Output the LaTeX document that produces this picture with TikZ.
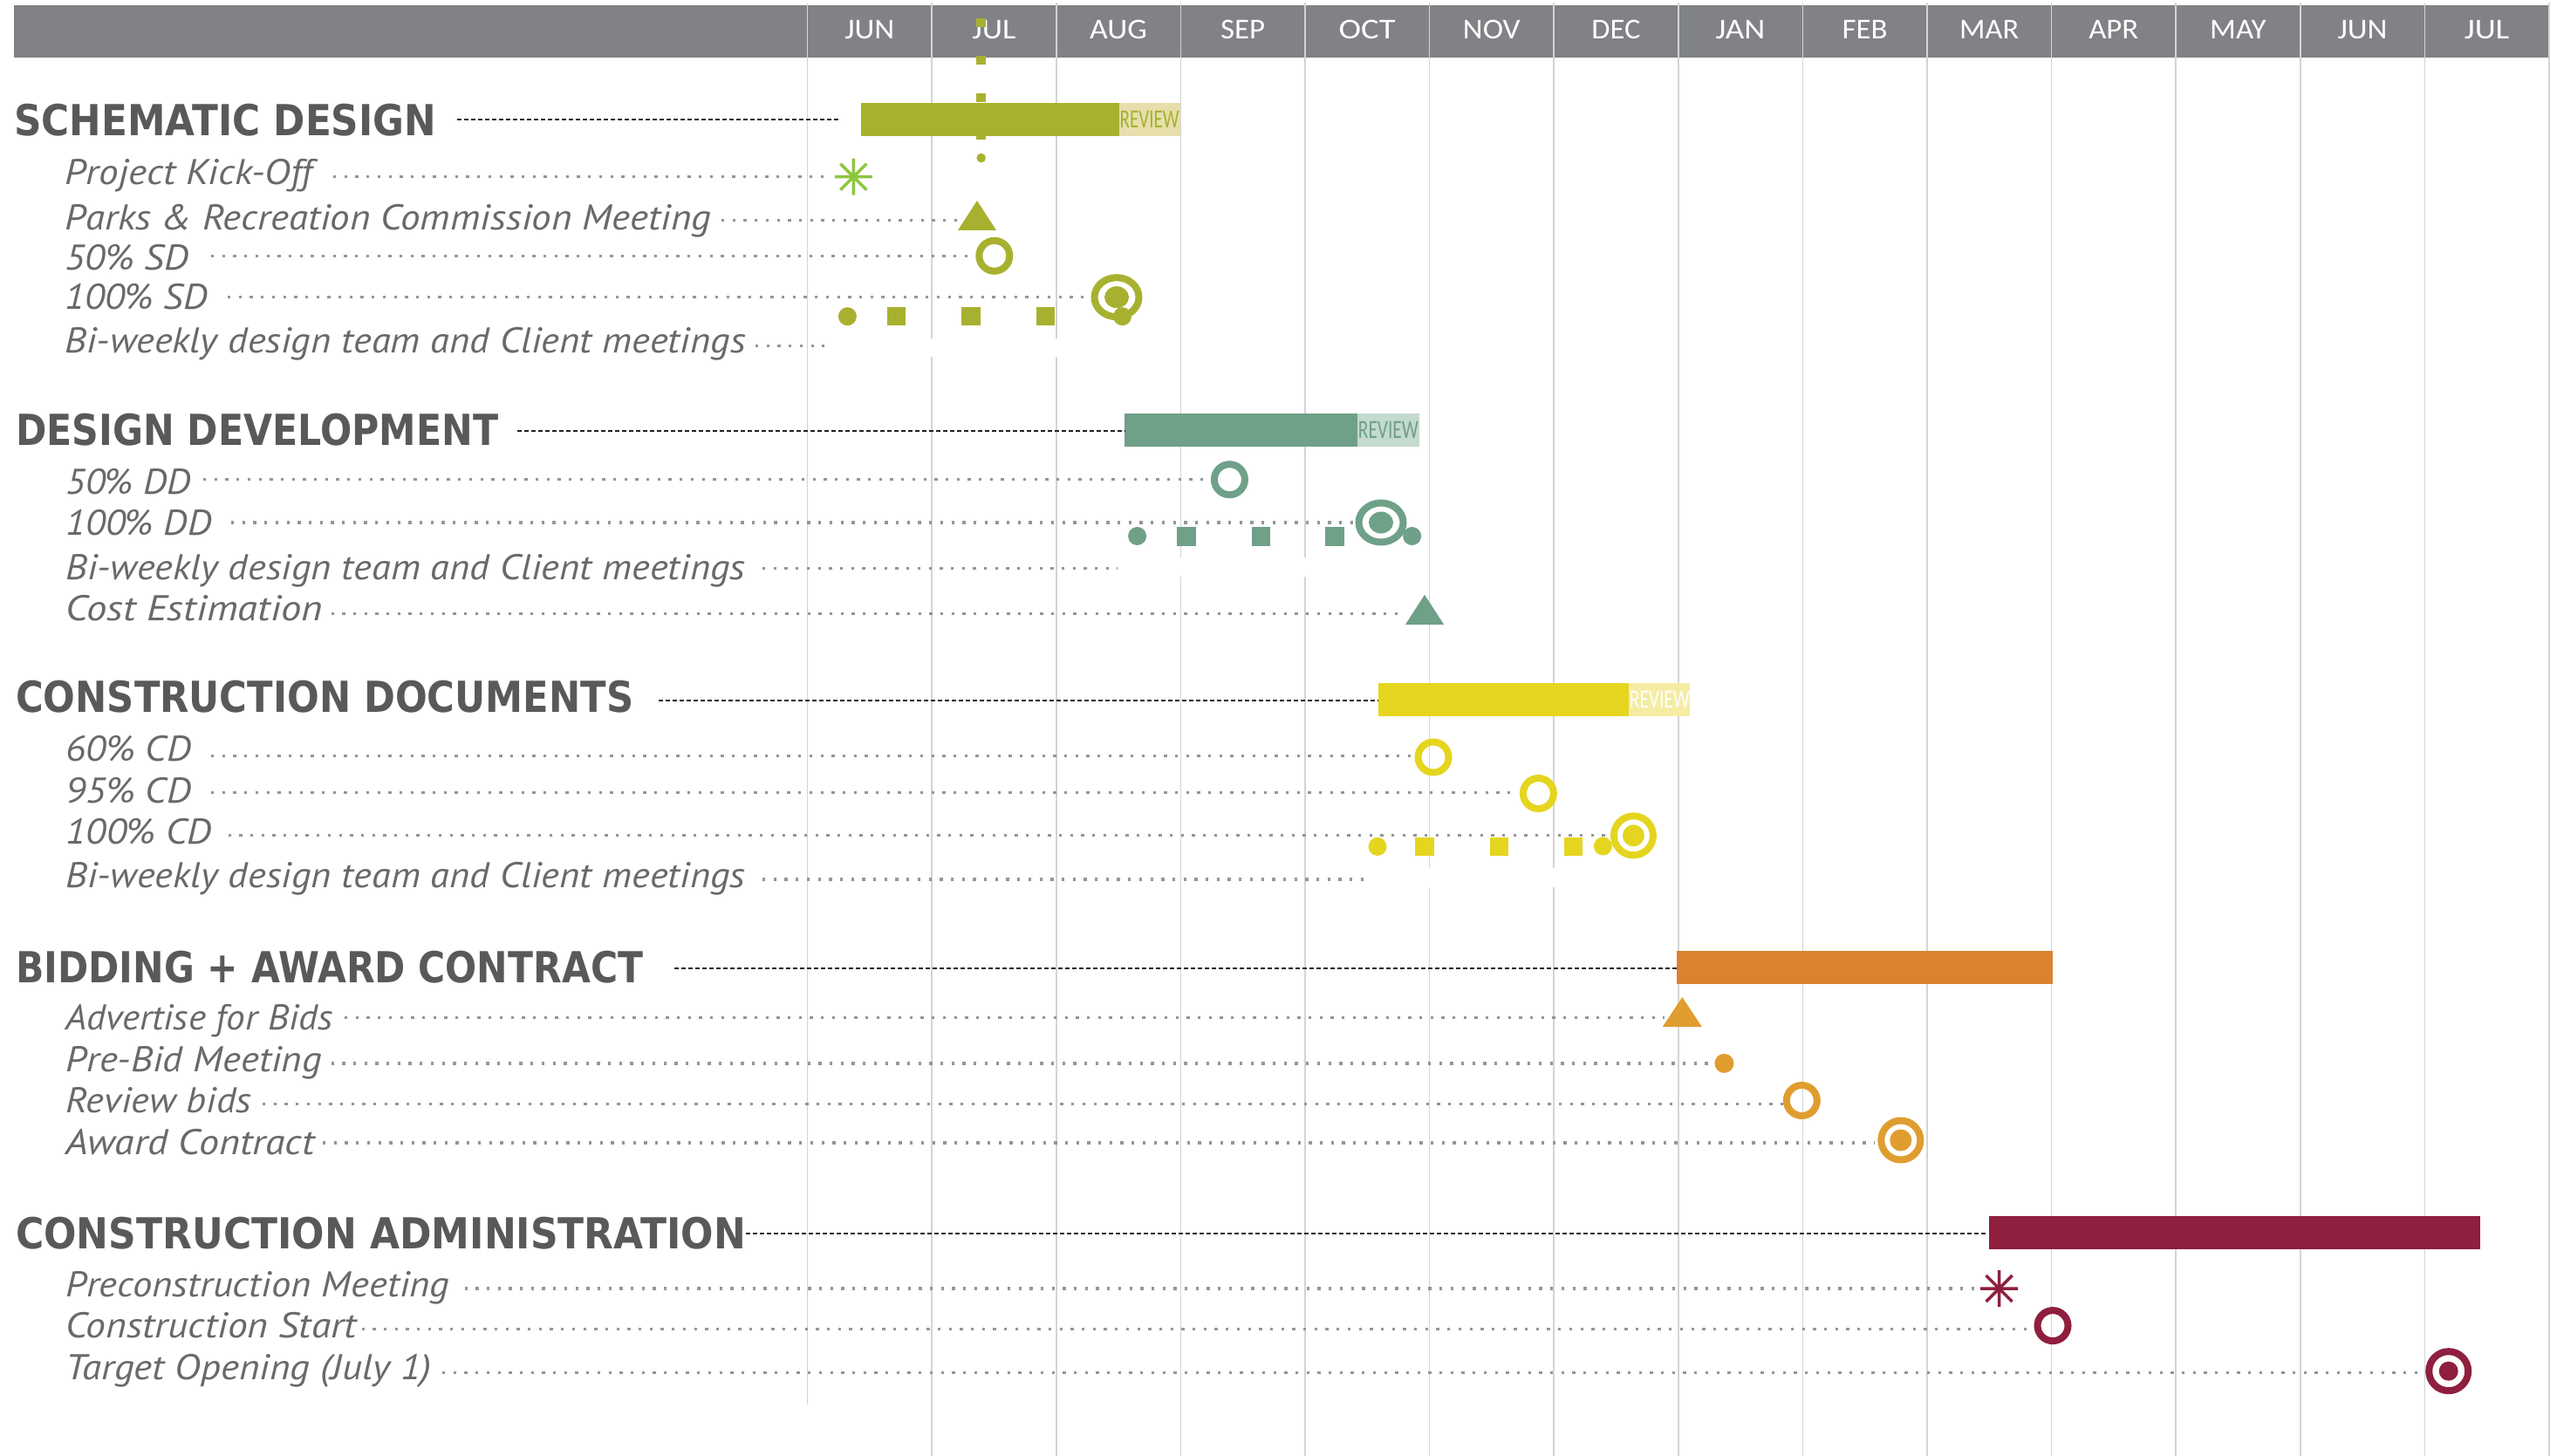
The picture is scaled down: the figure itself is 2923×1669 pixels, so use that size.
\documentclass[tikz,border=0pt]{standalone}
\usepackage{fontspec}
\usepackage{graphicx}
\usetikzlibrary{shapes.geometric}
\newfontfamily\headfont{DejaVu Sans}
\newfontfamily\itemfont{PT Sans}
\newfontfamily\monthfont{Carlito}
\definecolor{hdrgray}{HTML}{808285}
\definecolor{gridgray}{HTML}{D3D4D5}
\definecolor{headcol}{HTML}{58595B}
\definecolor{itemcol}{HTML}{68696C}
\definecolor{dotgray}{HTML}{939598}
\definecolor{dashblack}{HTML}{231F20}
\definecolor{sdcol}{HTML}{A8B12F}
\definecolor{sdrev}{HTML}{E6DFAC}
\definecolor{sdstar}{HTML}{8DC63F}
\definecolor{ddcol}{HTML}{6FA088}
\definecolor{ddrev}{HTML}{C4DACE}
\definecolor{cdcol}{HTML}{E5D51F}
\definecolor{cdrev}{HTML}{F5ECA3}
\definecolor{bidbar}{HTML}{DB822E}
\definecolor{bidmk}{HTML}{E09D2F}
\definecolor{cacol}{HTML}{8E1F3F}
\newcommand{\fitto}[2]{\resizebox{#1pt}{\height}{#2}}
\newcommand{\leaderline}[4]{\path (#1,#3) coordinate (#4s) (#2,#3) coordinate (#4e); \draw[leader] (#4s) -- (#4e);}
\newcommand{\headline}[4]{\path (#1,#3) coordinate (#4s) (#2,#3) coordinate (#4e); \draw[hlead] (#4s) -- (#4e);}
\begin{document}
\begin{tikzpicture}[x=1pt,y=-1pt,
  leader/.style={draw=dotgray, line width=3.3pt, dash pattern=on 3.3pt off 9.4pt},
  hlead/.style={draw=dashblack, line width=2.2pt, dash pattern=on 5pt off 3pt},
  gridl/.style={draw=gridgray, line width=1.6pt},
  headtxt/.style={font=\headfont\bfseries\fontsize{49}{56}\selectfont, text=headcol, inner sep=0pt, anchor=base west},
  itemtxt/.style={font=\itemfont\itshape\fontsize{41}{48}\selectfont, text=itemcol, inner sep=0pt, anchor=base west},
  monthtxt/.style={font=\monthfont\fontsize{33}{40}\selectfont, text=white, inner sep=0pt, anchor=base},
  revtxt/.style={font=\monthfont\fontsize{30}{34}\selectfont, inner sep=0pt, anchor=base west},
  gbar/.style={rectangle, inner sep=0pt, outer sep=0pt, anchor=north west},
  mring/.style={circle, draw=#1, line width=8pt, minimum size=35pt, inner sep=0pt},
  mtarget/.style={circle, draw=#1, line width=8pt, minimum size=45pt, inner sep=0pt},
  mtargetw/.style={ellipse, draw=#1, line width=8pt, minimum width=51pt, minimum height=45pt, inner sep=0pt},
  mcore/.style={circle, fill=#1, minimum size=25pt, inner sep=0pt},
  mcorew/.style={ellipse, fill=#1, minimum width=28pt, minimum height=25pt, inner sep=0pt},
  mdot/.style={circle, fill=#1, minimum size=21pt, inner sep=0pt},
  msq/.style={rectangle, fill=#1, minimum size=21.7pt, inner sep=0pt},
  mstar/.style={draw=#1, line width=3.5pt},
  gapbox/.style={fill=white}
]
\useasboundingbox (0,0) rectangle (2923,1669);
\fill[white] (0,0) rectangle (2923,1669);
% header bar
\node[gbar, fill=hdrgray, minimum width=2907pt, minimum height=59.7pt] (header) at (16,6) {};
% grid lines
\foreach \k in {1,...,14} \draw[gridl] ({925.5+142.6*\k},3) -- ({925.5+142.6*\k},1669);
\draw[gridl] (925.5,3) -- (925.5,1610);
% white gaps behind bi-weekly rows
\fill[gapbox] (950,388) rectangle (1290,409);
\fill[gapbox] (1295,639) rectangle (1600,661);
\fill[gapbox] (1570,995) rectangle (1900,1017);
% month labels
\foreach \m/\w [count=\i from 0] in {JUN/57,JUL/50,AUG/65.7,SEP/51,OCT/65,NOV/65.7,DEC/56,JAN/56.6,FEB/52,MAR/68,APR/57,MAY/64.5,JUN/57,JUL/51.6}
  \node[monthtxt] (mon\i) at ({925.5+142.6*(\i+0.5)},44.3) {\fitto{\w}{\m}};

% ================= SCHEMATIC DESIGN
\node[headtxt] (sdhead) at (16,156) {\fitto{484}{SCHEMATIC DESIGN}};
\node[gbar, fill=sdcol, minimum width=295.6pt, minimum height=38pt] (sdbar) at (987,118) {};
\node[gbar, fill=sdrev, minimum width=70.1pt, minimum height=38pt] (sdrevbox) at (1282.6,118) {};
\node[revtxt, text=sdcol] (sdrevtxt) at (1283.5,146.5) {\fitto{68}{REVIEW}};
\headline{524}{961}{137}{sdh}
% vertical dashed marker
\path (1124.7,21) coordinate (kvt) (1124.7,160.5) coordinate (kvb);
\draw[sdcol, line width=10.7pt, dash pattern=on 10.5pt off 32.5pt] (kvt) -- (kvb);
\node[circle, fill=sdcol, minimum size=10.6pt, inner sep=0pt] (kvdot) at (1124.7,181) {};

\node[itemtxt] (kick) at (74.5,211.7) {\fitto{283.5}{Project Kick-Off}};
\node[itemtxt] (parks) at (74.5,263.3) {\fitto{740.5}{Parks \& Recreation Commission Meeting}};
\node[itemtxt] (sd50) at (74.5,310) {\fitto{141.5}{50\% SD}};
\node[itemtxt] (sd100) at (74.5,355) {\fitto{163}{100\% SD}};
\node[itemtxt] (sdbw) at (74.5,405) {\fitto{780}{Bi-weekly design team and Client meetings}};
\leaderline{382}{950}{202.7}{lkick}
\leaderline{827}{1105}{252.3}{lparks}
\leaderline{242}{1117}{293.3}{lsd50}
\leaderline{261}{1248}{340.7}{lsd100}
\leaderline{866}{945}{396.7}{lsdbw}
% markers
\coordinate (sdstarc) at (978.3,202.7);
\draw[mstar=sdstar] (sdstarc) ++(0,-21) -- ++(0,42) (sdstarc) ++(-21.5,0) -- ++(43,0)
  (sdstarc) ++(-15,-15) -- ++(30,30) (sdstarc) ++(15,-15) -- ++(-30,30);
\coordinate (sdtri) at (1120,247);
\fill[sdcol] (sdtri) ++(0,-17) -- ++(22,34) -- ++(-44,0) -- cycle;
\node[mring=sdcol] (sd50m) at (1139.8,293.3) {};
\node[mtargetw=sdcol] (sd100m) at (1280,340.7) {};
\node[mcorew=sdcol] (sd100c) at (1280,340.7) {};
\node[mdot=sdcol] (sdb1) at (971.4,362.7) {};
\node[msq=sdcol] (sdb2) at (1027.5,362.5) {};
\node[msq=sdcol] (sdb3) at (1113,362.5) {};
\node[msq=sdcol] (sdb4) at (1198.5,362.5) {};
\node[mdot=sdcol] (sdb5) at (1286.5,362.7) {};

% ================= DESIGN DEVELOPMENT
\node[headtxt] (ddhead) at (18,510) {\fitto{553}{DESIGN DEVELOPMENT}};
\node[gbar, fill=ddcol, minimum width=267pt, minimum height=38pt] (ddbar) at (1289,474) {};
\node[gbar, fill=ddrev, minimum width=71pt, minimum height=38pt] (ddrevbox) at (1556,474) {};
\node[revtxt, text=ddcol] (ddrevtxt) at (1556.7,502) {\fitto{69}{REVIEW}};
\headline{593}{1290}{494}{ddh}
\node[itemtxt] (dd50) at (75.3,566.3) {\fitto{143.5}{50\% DD}};
\node[itemtxt] (dd100) at (75.3,613.7) {\fitto{167}{100\% DD}};
\node[itemtxt] (ddbw) at (75.3,664.4) {\fitto{779}{Bi-weekly design team and Client meetings}};
\node[itemtxt] (cost) at (75.3,711.8) {\fitto{294.6}{Cost Estimation}};
\leaderline{233}{1386}{549.7}{ldd50}
\leaderline{265}{1552}{599}{ldd100}
\leaderline{874}{1281}{651.3}{lddbw}
\leaderline{379.5}{1609}{703.5}{lcost}
\node[mring=ddcol] (dd50m) at (1409.4,549.7) {};
\node[mtargetw=ddcol] (dd100m) at (1583,599) {};
\node[mcorew=ddcol] (dd100c) at (1583,599) {};
\node[mdot=ddcol] (ddb1) at (1303.6,614.5) {};
\node[msq=ddcol] (ddb2) at (1360,614.8) {};
\node[msq=ddcol] (ddb3) at (1445.5,614.8) {};
\node[msq=ddcol] (ddb4) at (1530.3,614.8) {};
\node[mdot=ddcol] (ddb5) at (1618.6,614.5) {};
\coordinate (ddtri) at (1633,698.8);
\fill[ddcol] (ddtri) ++(0,-17) -- ++(22,34) -- ++(-44,0) -- cycle;

% ================= CONSTRUCTION DOCUMENTS
\node[headtxt] (cdhead) at (18,816.6) {\fitto{708}{CONSTRUCTION DOCUMENTS}};
\node[gbar, fill=cdcol, minimum width=287pt, minimum height=37.6pt] (cdbar) at (1579.7,783) {};
\node[gbar, fill=cdrev, minimum width=70.1pt, minimum height=37.6pt] (cdrevbox) at (1866.7,783) {};
\node[revtxt, text=white] (cdrevtxt) at (1867.7,811) {\fitto{69}{REVIEW}};
\headline{754.5}{1580}{802.8}{cdh}
\node[itemtxt] (cd60) at (75.3,872) {\fitto{143.5}{60\% CD}};
\node[itemtxt] (cd95) at (75.3,920.2) {\fitto{143.5}{95\% CD}};
\node[itemtxt] (cd100) at (75.3,967.6) {\fitto{167}{100\% CD}};
\node[itemtxt] (cdbw) at (75.3,1017.9) {\fitto{779}{Bi-weekly design team and Client meetings}};
\leaderline{242}{1622}{866.8}{lcd60}
\leaderline{242}{1740}{908.3}{lcd95}
\leaderline{261.5}{1845}{957.8}{lcd100}
\leaderline{874}{1564}{1008}{lcdbw}
\node[mring=cdcol] (cd60m) at (1643,868) {};
\node[mring=cdcol] (cd95m) at (1763.4,909.5) {};
\node[mdot=cdcol] (cdb1) at (1579,970.4) {};
\node[msq=cdcol] (cdb2) at (1633,970.5) {};
\node[msq=cdcol] (cdb3) at (1718.5,970.5) {};
\node[msq=cdcol] (cdb4) at (1803.5,970.5) {};
\node[mdot=cdcol] (cdb5) at (1837.4,970) {};
\node[mtarget=cdcol] (cd100m) at (1872.4,957.8) {};
\node[mcore=cdcol] (cd100c) at (1872.4,957.8) {};

% ================= BIDDING + AWARD CONTRACT
\node[headtxt] (bidhead) at (18,1126) {\fitto{719}{BIDDING + AWARD CONTRACT}};
\node[gbar, fill=bidbar, minimum width=431pt, minimum height=38pt] (bidbarn) at (1922,1090) {};
\headline{773}{1922}{1109.6}{bidh}
\node[itemtxt] (adv) at (75.3,1180.5) {\fitto{306}{Advertise for Bids}};
\node[itemtxt] (prebid) at (75.3,1228.2) {\fitto{293.3}{Pre-Bid Meeting}};
\node[itemtxt] (revb) at (75.3,1275.2) {\fitto{213}{Review bids}};
\node[itemtxt] (award) at (75.3,1323.4) {\fitto{285}{Award Contract}};
\leaderline{395}{1908}{1166.4}{ladv}
\leaderline{379.5}{1963}{1218.9}{lprebid}
\leaderline{301}{2044.5}{1265.8}{lrevb}
\leaderline{370}{2149}{1310}{laward}
\coordinate (bidtri) at (1928.3,1160);
\fill[bidmk] (bidtri) ++(0,-17) -- ++(22.5,34) -- ++(-45,0) -- cycle;
\node[circle, fill=bidmk, minimum size=22pt, inner sep=0pt] (prebidm) at (1976.4,1218.9) {};
\node[mring=bidmk] (revbm) at (2065.3,1261.5) {};
\node[mtarget=bidmk] (awardm) at (2178.8,1307) {};
\node[mcore=bidmk] (awardc) at (2178.8,1307) {};

% ================= CONSTRUCTION ADMINISTRATION
\node[headtxt] (cahead) at (18,1431) {\fitto{837}{CONSTRUCTION ADMINISTRATION}};
\node[gbar, fill=cacol, minimum width=563.5pt, minimum height=37.9pt] (cabar) at (2279.5,1393.8) {};
\headline{855}{2278}{1413.8}{cah}
\node[itemtxt] (precon) at (75.3,1486.3) {\fitto{440}{Preconstruction Meeting}};
\node[itemtxt] (cstart) at (75.3,1533.3) {\fitto{333}{Construction Start}};
\node[itemtxt] (topen) at (75.3,1581) {\fitto{419}{Target Opening (July 1)}};
\leaderline{532.5}{2271}{1477}{lprecon}
\leaderline{414.5}{2330}{1523.5}{lcstart}
\leaderline{507}{2779.5}{1573.8}{ltopen}
\coordinate (castarc) at (2291.5,1477);
\draw[mstar=cacol] (castarc) ++(0,-21) -- ++(0,42) (castarc) ++(-21.5,0) -- ++(43,0)
  (castarc) ++(-15,-15) -- ++(30,30) (castarc) ++(15,-15) -- ++(-30,30);
\node[mring=cacol] (cstartm) at (2353,1519.6) {};
\node[mtarget=cacol] (topenm) at (2806.7,1571.7) {};
\node[circle, fill=cacol, minimum size=22pt, inner sep=0pt] (topenc) at (2806.7,1571.7) {};
\end{tikzpicture}
\end{document}
